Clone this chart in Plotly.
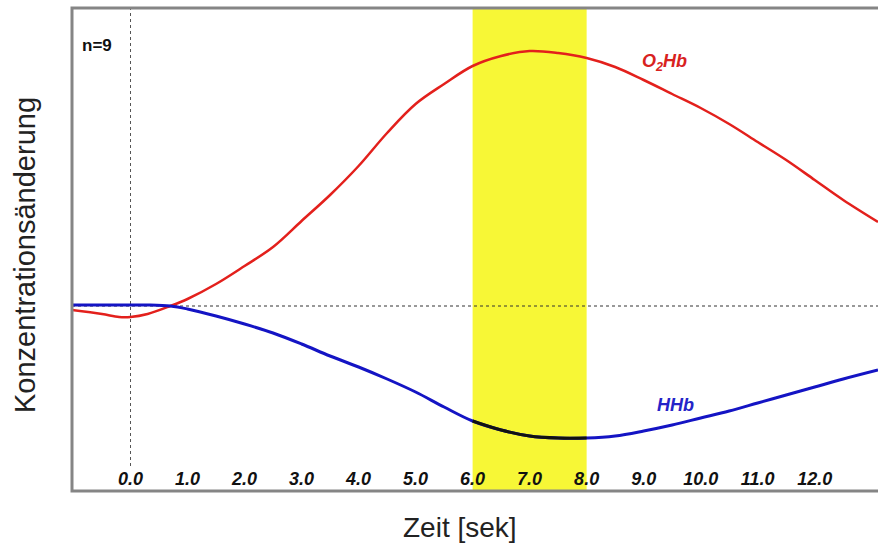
import plotly.graph_objects as go

# ---- data (arbitrary concentration units) ----
time_s = [-1.03, -0.5, -0.2, 0.0, 0.3, 0.7, 1.0, 1.5, 2.0, 2.5, 3.0, 3.5, 4.0, 4.5,
          5.0, 5.5, 6.0, 6.5, 7.0, 7.5, 8.0, 8.5, 9.0, 9.5, 10.0, 10.5, 11.0, 11.5,
          12.0, 12.5, 13.11]
o2hb = [-0.04, -0.08, -0.11, -0.11, -0.08, 0.0, 0.07, 0.22, 0.40, 0.59, 0.85, 1.11,
        1.40, 1.73, 2.02, 2.22, 2.40, 2.50, 2.55, 2.53, 2.48, 2.39, 2.26, 2.12, 1.98,
        1.82, 1.64, 1.46, 1.26, 1.06, 0.84]
hhb = [0.01, 0.01, 0.01, 0.01, 0.01, 0.0, -0.03, -0.10, -0.18, -0.27, -0.38, -0.50,
       -0.61, -0.73, -0.86, -1.01, -1.15, -1.24, -1.30, -1.32, -1.32, -1.30, -1.25,
       -1.19, -1.12, -1.05, -0.97, -0.89, -0.81, -0.73, -0.64]
stim_start, stim_end = 6.0, 8.0
tick_vals = [0, 1, 2, 3, 4, 5, 6, 7, 8, 9, 10, 11, 12]
tick_text = ["0.0", "1.0", "2.0", "3.0", "4.0", "5.0", "6.0", "7.0", "8.0", "9.0",
             "10.0", "11.0", "12.0"]
n_subjects = 9
x_title = "Zeit [sek]"
y_title = "Konzentrationsänderung"

FONT = "Liberation Sans, Arial, sans-serif"
RED = "#e3201c"
BLUE = "#1414c4"

fig = go.Figure()

fig.add_trace(go.Scatter(x=time_s, y=o2hb, mode="lines", line=dict(color=RED, width=2.5, shape="spline"),
                         name="O2Hb", hoverinfo="skip"))
fig.add_trace(go.Scatter(x=time_s, y=hhb, mode="lines", line=dict(color=BLUE, width=3, shape="spline"),
                         name="HHb", hoverinfo="skip"))
# HHb segment inside the stimulation window drawn in black
seg_t = [t for t in time_s if stim_start <= t <= stim_end]
seg_v = [v for t, v in zip(time_s, hhb) if stim_start <= t <= stim_end]
fig.add_trace(go.Scatter(x=seg_t, y=seg_v, mode="lines", line=dict(color="#111111", width=3, shape="spline"),
                         hoverinfo="skip"))

plot_top, plot_bottom, plot_left, W = 8, 466, 72, 878
plot_h = plot_bottom - plot_top
plot_w = W - plot_left
frame_bottom = -(491 - plot_bottom) / plot_h

shapes = [
    dict(type="rect", xref="x", yref="paper", x0=stim_start, x1=stim_end, y0=frame_bottom, y1=1,
         fillcolor="#f7f736", line=dict(width=0), layer="below"),
    dict(type="line", xref="x", yref="paper", x0=0, x1=0, y0=0, y1=1,
         line=dict(color="#555555", width=1, dash="dot"), layer="below"),
    dict(type="line", xref="paper", yref="y", x0=0, x1=1, y0=0, y1=0,
         line=dict(color="#333333", width=1, dash="dot"), layer="below"),
    dict(type="path", xref="paper", yref="paper",
         path=f"M 1.01 1 L 0 1 L 0 {frame_bottom} L 1.01 {frame_bottom}",
         line=dict(color="#858585", width=3)),
]

annotations = [
    dict(x=-0.59, y=2.61, xref="x", yref="y", text=f"<b>n={n_subjects}</b>", showarrow=False,
         font=dict(family=FONT, size=17, color="#111111")),
    dict(x=9.36, y=2.44, xref="x", yref="y", text="<b><i>O<sub>2</sub>Hb</i></b>", showarrow=False,
         font=dict(family=FONT, size=18, color="#d8221e")),
    dict(x=9.55, y=-0.99, xref="x", yref="y", text="<b><i>HHb</i></b>", showarrow=False,
         font=dict(family=FONT, size=18, color="#2424c8")),
    # axis titles
    dict(x=(460 - plot_left) / plot_w, y=(plot_bottom - 527) / plot_h, xref="paper", yref="paper",
         text=x_title, showarrow=False, xanchor="center", yanchor="middle",
         font=dict(family=FONT, size=28, color="#222222")),
    dict(x=(25 - plot_left) / plot_w, y=(plot_bottom - 255) / plot_h, xref="paper", yref="paper",
         text=y_title, showarrow=False, textangle=-90, xanchor="center", yanchor="middle",
         font=dict(family=FONT, size=29, color="#222222")),
]

fig.update_layout(
    width=W, height=549,
    margin=dict(l=plot_left, r=0, t=plot_top, b=549 - plot_bottom, autoexpand=False),
    paper_bgcolor="white", plot_bgcolor="white",
    showlegend=False,
    shapes=shapes, annotations=annotations,
    font=dict(family=FONT, color="#222222"),
    xaxis=dict(range=[-1.026, 13.11], tickvals=tick_vals, ticktext=tick_text,
               showgrid=False, zeroline=False, showline=False, ticks="",
               tickfont=dict(family=FONT, size=18, color="#111111", weight="bold", style="italic")),
    yaxis=dict(range=[-1.60, 2.98], showgrid=False, zeroline=False, showline=False,
               showticklabels=False, ticks=""),
)

fig.write_html("out.html")
